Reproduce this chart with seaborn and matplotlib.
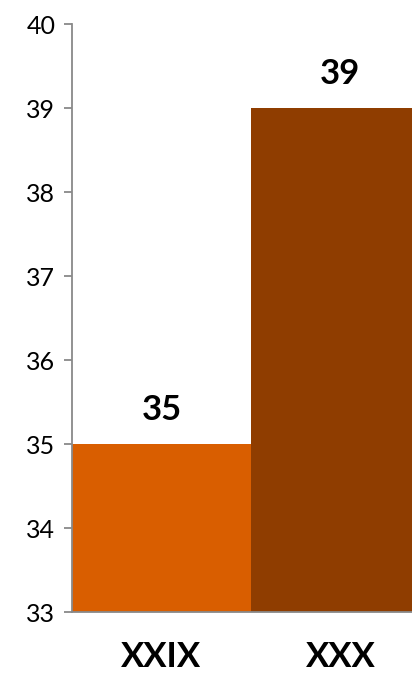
import matplotlib
matplotlib.use("Agg")
import matplotlib.pyplot as plt
import seaborn as sns
import pandas as pd

# data
categories = ["XXIX", "XXX"]
values = [35, 39]
bar_colors = ["#D95E00", "#8F3D00"]
y_ticks = [33, 34, 35, 36, 37, 38, 39, 40]

sns.set_style("white")
plt.rcParams['font.family'] = ['Lato', 'DejaVu Sans']
plt.rcParams['text.color'] = 'black'
plt.rcParams['xtick.color'] = 'black'
plt.rcParams['ytick.color'] = 'black'

df = pd.DataFrame({"session": categories, "count": values})

fig = plt.figure(figsize=(4.12, 6.74), dpi=100)
ax = fig.add_axes([72 / 412, 1 - 612 / 674, 1 - 72 / 412, (612 - 24) / 674])

sns.barplot(data=df, x="session", y="count", hue="session", palette=bar_colors,
            width=1.0, legend=False, ax=ax, saturation=1, linewidth=0)

ax.set_ylim(33, 40)
ax.set_xlim(-0.5, 1.4)
ax.set_yticks(y_ticks)
ax.set_xlabel("")
ax.set_ylabel("")

for i, v in enumerate(values):
    ax.annotate(str(v), (i, v), xytext=(0, 13), textcoords="offset points",
                ha="center", va="bottom", fontsize=25, fontweight="bold", color="black")

sns.despine(ax=ax)
for s in ["left", "bottom"]:
    ax.spines[s].set_color("#898989")
    ax.spines[s].set_linewidth(1.3)

ax.tick_params(axis="y", length=6, width=1.3, color="#898989", labelcolor="black",
               labelsize=18, pad=6, left=True)
ax.tick_params(axis="x", length=0, labelsize=25, labelcolor="black", pad=21)
for lbl in ax.get_xticklabels():
    lbl.set_fontweight("bold")

fig.savefig("out.png", dpi=100)
